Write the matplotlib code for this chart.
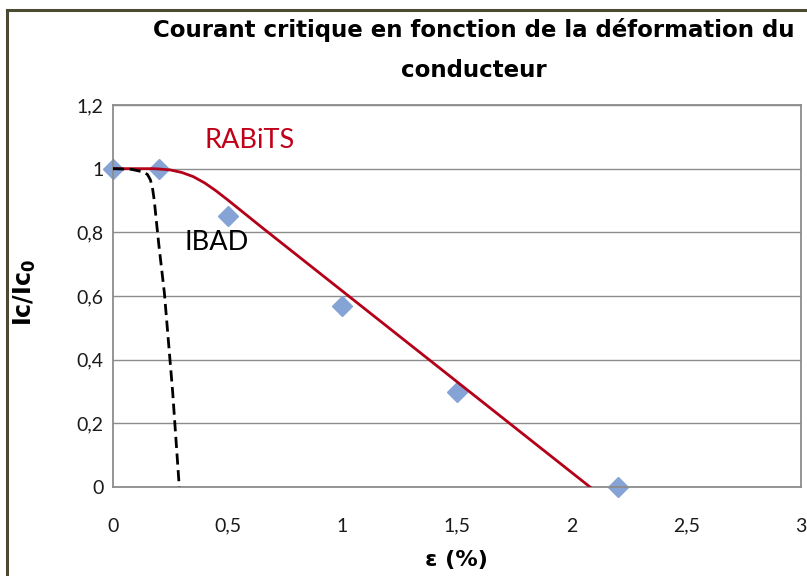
"""Critical current versus conductor strain: RABiTS and IBAD tapes."""

import matplotlib
matplotlib.use('Agg')
import matplotlib.pyplot as plt
from matplotlib.lines import Line2D
from matplotlib.ticker import FuncFormatter

# Measured points (strain in %, normalised critical current)
meas_strain = [0.0, 0.2, 0.5, 1.0, 1.5, 2.2]
meas_ic = [1.0, 1.0, 0.85, 0.57, 0.30, 0.0]

# RABiTS trend curve
rabits_strain = [0.0, 0.17, 0.20, 0.25, 0.30, 0.35, 0.40, 0.45, 0.50,
                 0.55, 0.60, 0.65, 2.08]
rabits_ic = [1.0, 1.0, 0.999, 0.996, 0.988, 0.975, 0.955, 0.930, 0.902,
             0.873, 0.844, 0.815, 0.0]

# IBAD trend curve
ibad_strain = [0.0, 0.08, 0.13, 0.15, 0.163, 0.172, 0.18, 0.187, 0.20,
               0.224, 0.26, 0.289]
ibad_ic = [1.0, 0.998, 0.99, 0.982, 0.965, 0.94, 0.90, 0.85, 0.76,
           0.61, 0.30, 0.0]

x_ticks = [0, 0.5, 1, 1.5, 2, 2.5, 3]
y_ticks = [0, 0.2, 0.4, 0.6, 0.8, 1.0, 1.2]

fig = plt.figure(figsize=(8.07, 5.76), dpi=100)
ax = fig.add_axes([113/807, 89/576, 688/807, 382/576])

grid_col = '#8c8c8c'
ax.set_xlim(0, 3)
ax.set_ylim(0, 1.2)
ax.set_xticks(x_ticks)
ax.set_yticks(y_ticks)
comma = FuncFormatter(lambda v, p: f'{v:g}'.replace('.', ','))
ax.xaxis.set_major_formatter(comma)
ax.yaxis.set_major_formatter(comma)
ax.tick_params(axis='both', length=0, labelsize=14, colors='#1a1a1a')
ax.tick_params(axis='x', pad=22)
ax.tick_params(axis='y', pad=7)
for lbl in ax.get_xticklabels() + ax.get_yticklabels():
    lbl.set_family('Lato')
ax.grid(axis='y', color=grid_col, linewidth=1.0)
ax.set_axisbelow(True)
for s in ax.spines.values():
    s.set_color(grid_col)
    s.set_linewidth(1.3)

ax.plot(meas_strain, meas_ic, linestyle='none', marker='D', markersize=10,
        color='#85a3d5', markeredgecolor='#85a3d5', zorder=2, clip_on=False)
ax.plot(rabits_strain, rabits_ic, color='#b40018', linewidth=2.0, zorder=3)
ax.plot(ibad_strain, ibad_ic, color='black', linewidth=2.0,
        dashes=(4, 2), zorder=4)

ax.text(0.40, 1.09, 'RABiTS', color='#c00018', fontsize=19.5,
        family='Lato', va='center', ha='left')
ax.text(0.31, 0.767, 'IBAD', color='black', fontsize=19.5,
        family='Lato', va='center', ha='left')

fig.text(0.587, 0.948, 'Courant critique en fonction de la déformation du',
         ha='center', va='center', fontsize=16.5, fontweight='bold')
fig.text(0.587, 0.878, 'conducteur',
         ha='center', va='center', fontsize=16.5, fontweight='bold')
fig.text(0.031, 0.493, r'Ic/Ic$_\mathbf{0}$', rotation=90, ha='center',
         va='center', fontsize=17, fontweight='bold')
fig.text(0.566, 0.028, 'ε (%)', ha='center', va='center',
         fontsize=16, fontweight='bold')

# outer frame on top and left edges
frame_col = '#4b4b32'
fig.add_artist(Line2D([7/807, 1.0], [1 - 10/576, 1 - 10/576],
                      transform=fig.transFigure, color=frame_col, linewidth=2.2))
fig.add_artist(Line2D([7/807, 7/807], [0.0, 1 - 10/576],
                      transform=fig.transFigure, color=frame_col, linewidth=2.2))

fig.savefig('out.png', dpi=100, facecolor='white')
